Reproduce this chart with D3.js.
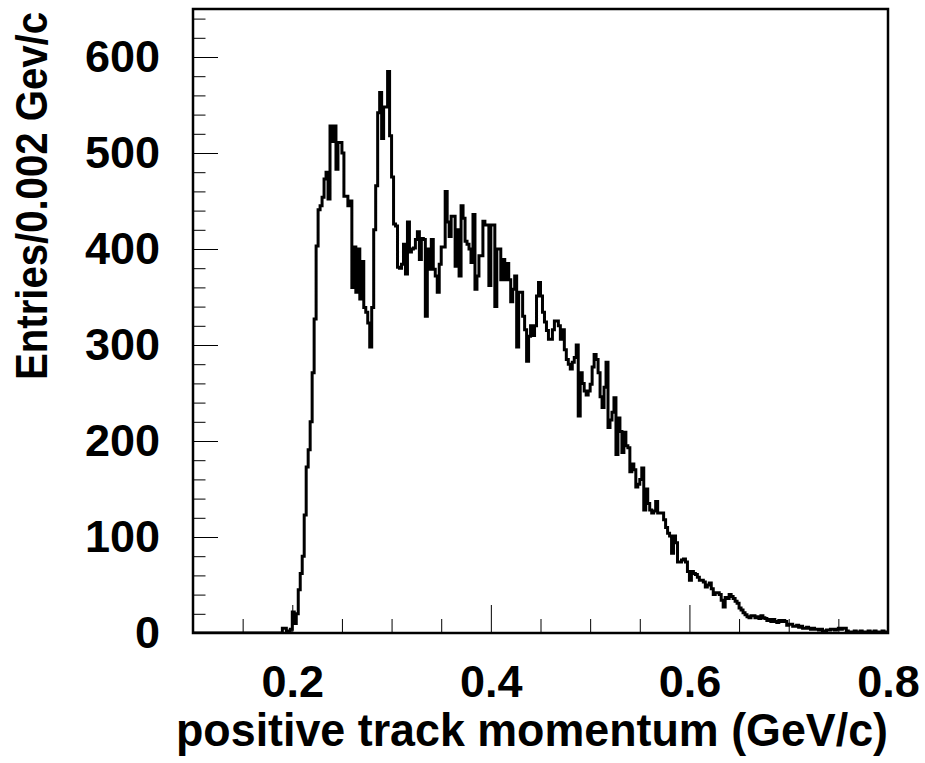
<!DOCTYPE html>
<html>
  <head>
    <meta http-equiv="Content-Type" content="text/html;charset=utf-8" />
    <title>positive track momentum</title>
    <style>
      body {
        margin: 0;
        background: #fff;
      }
      text {
        font-family: "Liberation Sans", Arial, Helvetica, sans-serif;
        font-weight: bold;
        fill: #000;
      }
      .tick line {
        stroke: #000;
        stroke-width: 1px;
      }
      path.hist {
        fill: none;
        stroke: #000;
        stroke-width: 3px;
        stroke-linejoin: miter;
      }
    </style>
    <script src="https://d3js.org/d3.v7.min.js"></script>
  </head>
  <body>
    <div id="chart"></div>
    <script type="text/javascript">
      const width = 925,
        height = 763;

      // histogram binning: 0.1 .. 0.8 GeV/c, 0.002 per bin
      const xMin = 0.1,
        xMax = 0.8,
        binWidth = 0.002;

      const xTicksMajor = [0.2, 0.4, 0.6, 0.8];
      const xTickLabels = ["0.2", "0.4", "0.6", "0.8"];
      const yTicksMajor = [0, 100, 200, 300, 400, 500, 600];
      const yTickLabels = ["0", "100", "200", "300", "400", "500", "600"];

      const xTitle = "positive track momentum (GeV/c)";
      const yTitle = "Entries/0.002 Gev/c";

      // entries per bin (bins 0.100 - 0.188 are empty)
      const emptyBins = 44;
      const counts = [
        // 0.188
        0, 5, 5, 2, 2, 4, 22, 10, 20, 45, 62, 80, 123, 173, 191, 220,
        // 0.220
        271, 327, 403, 441, 445, 454, 473, 480, 452, 528, 512, 528, 483, 511, 511, 500,
        // 0.252
        455, 455, 445, 450, 360, 402, 355, 400, 348, 387, 339, 334, 323, 298, 339, 420,
        // 0.284
        466, 542, 563, 515, 548, 548, 585, 518, 475, 426, 424, 381, 380, 384, 405, 374,
        // 0.316
        428, 397, 400, 401, 410, 418, 389, 411, 410, 330, 400, 379, 410, 379, 372, 355,
        // 0.348
        384, 402, 402, 460, 428, 413, 434, 434, 382, 420, 372, 445, 432, 408, 405, 400,
        // 0.380
        386, 436, 358, 372, 393, 393, 429, 425, 425, 362, 425, 425, 340, 400, 400, 368,
        // 0.412
        389, 368, 385, 368, 345, 358, 372, 298, 355, 355, 330, 316, 283, 309, 320, 310,
        // 0.444
        320, 351, 365, 351, 334, 324, 315, 306, 306, 316, 325, 325, 320, 306, 316, 295,
        // 0.476
        285, 280, 275, 282, 287, 300, 226, 271, 260, 252, 248, 252, 259, 277, 290, 285,
        // 0.508
        271, 246, 235, 256, 282, 214, 222, 230, 245, 186, 224, 210, 188, 209, 195, 193,
        // 0.540
        168, 176, 170, 152, 155, 160, 172, 128, 150, 135, 128, 125, 127, 137, 125, 125,
        // 0.572
        125, 118, 110, 104, 101, 83, 101, 94, 74, 74, 76, 77, 74, 64, 55, 64,
        // 0.604
        62, 61, 58, 55, 55, 53, 48, 50, 52, 46, 40, 42, 42, 40, 34, 27,
        // 0.636
        37, 36, 40, 38, 36, 33, 31, 26, 24, 21, 19, 17, 16, 18, 18, 16,
        // 0.668
        17, 15, 18, 16, 15, 13, 14, 12, 14, 12, 11, 13, 12, 13, 12, 8,
        // 0.700
        9, 9, 7, 7, 8, 6, 7, 5, 5, 6, 5, 4, 5, 4, 4, 3,
        // 0.732
        4, 1, 2, 3, 3, 4, 4, 3, 4, 5, 4, 5, 5, 2, 1, 1,
        // 0.764
        1, 2, 1, 1, 2, 1, 1, 1, 2, 1, 1, 2, 1, 1, 1, 2, 1, 1,
      ];

      const frame = { left: 193, right: 888, top: 9, bottom: 633 };

      const x = d3.scaleLinear().domain([xMin, xMax]).range([frame.left, frame.right]);
      const y = d3.scaleLinear().domain([0, 650]).range([frame.bottom, frame.top]);

      const svg = d3
        .select("#chart")
        .append("svg")
        .attr("width", width)
        .attr("height", height);

      svg
        .append("rect")
        .attr("width", width)
        .attr("height", height)
        .attr("fill", "#fff");

      svg
        .append("clipPath")
        .attr("id", "frameClip")
        .append("rect")
        .attr("x", frame.left)
        .attr("y", frame.top)
        .attr("width", frame.right - frame.left)
        .attr("height", frame.bottom - frame.top);

      //- bins as [low edge, entries]
      const bins = [];
      for (let i = 0; i < emptyBins; i++) bins.push([xMin + i * binWidth, 0]);
      counts.forEach(function (c, i) {
        bins.push([xMin + (emptyBins + i) * binWidth, c]);
      });
      bins.push([xMax, bins[bins.length - 1][1]]);

      const step = d3
        .line()
        .curve(d3.curveStepAfter)
        .x(function (d) {
          return x(d[0]);
        })
        .y(function (d) {
          return y(d[1]);
        });

      svg
        .append("path")
        .datum(bins)
        .attr("class", "hist")
        .attr("clip-path", "url(#frameClip)")
        .attr("d", step);

      //-- axes, ticks drawn inside the frame like ROOT
      const yMinor = d3.range(0, 641, 20).filter(function (v) {
        return v % 100 !== 0;
      });
      const xMinor = d3.range(0.15, 0.8, 0.05).filter(function (v) {
        return Math.abs(v * 10 - Math.round(v * 10)) > 1e-6 || Math.round(v * 10) % 2 === 1;
      });

      const yAxisMajor = d3
        .axisLeft(y)
        .tickValues(yTicksMajor)
        .tickSize(-25)
        .tickPadding(33)
        .tickFormat(function (d, i) {
          return yTickLabels[i];
        });
      const yAxisMinor = d3.axisLeft(y).tickValues(yMinor).tickSize(-12.5).tickFormat("");

      const xAxisMajor = d3
        .axisBottom(x)
        .tickValues(xTicksMajor)
        .tickSize(-28)
        .tickPadding(32)
        .tickFormat(function (d, i) {
          return xTickLabels[i];
        });
      const xAxisMinor = d3.axisBottom(x).tickValues(xMinor).tickSize(-14).tickFormat("");

      const gy = svg.append("g").attr("transform", "translate(" + frame.left + ",0)");
      gy.append("g").call(yAxisMinor);
      gy.append("g").call(yAxisMajor);

      const gx = svg.append("g").attr("transform", "translate(0," + frame.bottom + ")");
      gx.append("g").call(xAxisMinor);
      gx.append("g").call(xAxisMajor);

      svg.selectAll(".domain").remove();
      svg
        .selectAll(".tick text")
        .style("font-size", "45px")
        .style("font-family", null)
        .attr("fill", "#000");
      svg.selectAll(".tick line").attr("stroke", "#000");

      // frame drawn last so it sits on top of the histogram edges
      svg
        .append("rect")
        .attr("x", frame.left)
        .attr("y", frame.top)
        .attr("width", frame.right - frame.left)
        .attr("height", frame.bottom - frame.top)
        .style("fill", "none")
        .style("stroke", "#000")
        .style("stroke-width", "2.5px");

      //- titles
      svg
        .append("text")
        .attr("x", frame.right)
        .attr("y", 746)
        .attr("text-anchor", "end")
        .attr("textLength", 712)
        .attr("lengthAdjust", "spacingAndGlyphs")
        .style("font-size", "46px")
        .text(xTitle);

      svg
        .append("text")
        .attr("transform", "translate(47,12) rotate(-90)")
        .attr("text-anchor", "end")
        .attr("textLength", 368)
        .attr("lengthAdjust", "spacingAndGlyphs")
        .style("font-size", "44px")
        .text(yTitle);
    </script>
  </body>
</html>
